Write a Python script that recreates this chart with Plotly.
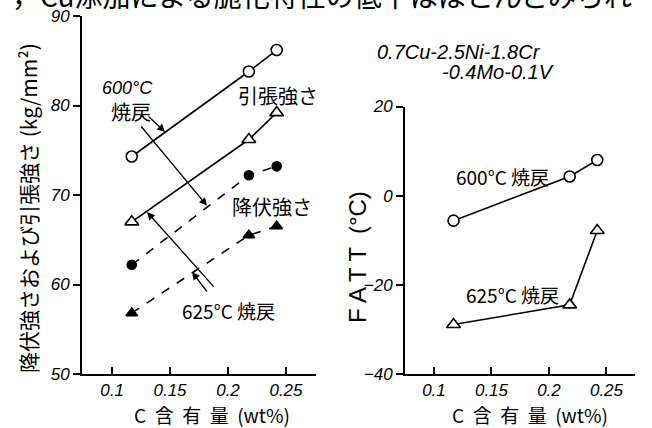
import plotly.graph_objects as go

# ---------------- data ----------------
c_content = [0.117, 0.218, 0.242]
tensile_600 = [74.3, 83.8, 86.2]
tensile_625 = [67.0, 76.2, 79.2]
yield_600 = [62.2, 72.2, 73.2]
yield_625 = [56.8, 65.5, 66.5]
fatt_600 = [-5.6, 4.3, 8.0]
fatt_625 = [-28.9, -24.5, -7.8]

x_ticks = [0.1, 0.15, 0.2, 0.25]
x_tick_labels = ["0.1", "0.15", "0.2", "0.25"]
y1_ticks = [50, 60, 70, 80, 90]
y2_ticks = [-40, -20, 0, 20]

W, H = 652, 428
BLACK = "#000000"
JP = "Noto Sans CJK JP"
NUM = "Liberation Sans"

fig = go.Figure()

def line_trace(y, xa, ya, dash, symbol, size, fill):
    fig.add_trace(go.Scatter(
        x=c_content, y=y, xaxis=xa, yaxis=ya, mode="lines+markers",
        line=dict(color=BLACK, width=1.6, dash=dash),
        marker=dict(symbol=symbol, size=size,
                    color=BLACK if fill else "white",
                    line=dict(color=BLACK, width=1.6)),
        showlegend=False, hoverinfo="skip"))

line_trace(tensile_600, "x", "y", "solid", "circle", 11, False)
line_trace(tensile_625, "x", "y", "solid", "triangle-up", 12, False)
line_trace(yield_600, "x", "y", "dash", "circle", 9, True)
line_trace(yield_625, "x", "y", "dash", "triangle-up", 10, True)
line_trace(fatt_600, "x2", "y2", "solid", "circle", 11, False)
line_trace(fatt_625, "x2", "y2", "solid", "triangle-up", 12, False)

def px_x(p):
    return p / W

def px_y(p):
    return 1 - p / H

axis_common = dict(showline=True, linecolor=BLACK, linewidth=2, showgrid=False,
                   zeroline=False, tickcolor=BLACK, tickwidth=1.5, ticklen=7,
                   automargin=False,
                   tickfont=dict(family=NUM, size=17, color=BLACK, style="italic"))

fig.update_layout(
    width=W, height=H,
    margin=dict(l=0, r=0, t=0, b=0, pad=0),
    paper_bgcolor="white", plot_bgcolor="white",
    xaxis=dict(domain=[px_x(82), px_x(316)], range=[0.0741, 0.2759],
               tickvals=x_ticks, ticktext=x_tick_labels, ticks="inside",
               anchor="y", **axis_common),
    yaxis=dict(domain=[px_y(374), px_y(16)], range=[50, 90],
               tickvals=y1_ticks, ticks="outside", anchor="x", **axis_common),
    xaxis2=dict(domain=[px_x(405), px_x(635)], range=[0.0748, 0.2748],
                tickvals=x_ticks, ticktext=x_tick_labels, ticks="inside",
                anchor="y2", **axis_common),
    yaxis2=dict(domain=[px_y(374), px_y(106.5)], range=[-40, 20],
                tickvals=y2_ticks, ticks="outside", anchor="x2", **axis_common),
)

ann = []

def txt(text, x, y, size, xref="paper", yref="paper", angle=0, italic=False, family=JP, xanchor="center"):
    ann.append(dict(text=text, x=x, y=y, xref=xref, yref=yref, showarrow=False,
                    textangle=angle, xanchor=xanchor, yanchor="middle",
                    font=dict(family=family, size=size, color=BLACK,
                              style="italic" if italic else "normal")))

def arrow(x_head, y_head, x_tail, y_tail, xref="x", yref="y"):
    ann.append(dict(text="", x=x_head, y=y_head, ax=x_tail, ay=y_tail,
                    xref=xref, yref=yref, axref=xref, ayref=yref,
                    showarrow=True, arrowhead=2, arrowsize=1.2, arrowwidth=1.3,
                    arrowcolor=BLACK, standoff=0, startstandoff=0))

# clipped text line at top of page
txt("，Cu添加による脆化特性の低下はほとんどみられ", px_x(322), px_y(-5), 28)

# axis titles
txt("降伏強さおよび引張強さ (kg/mm²)", px_x(28), px_y(208), 21, angle=-90)
txt("F A T T  (°C)", px_x(357), px_y(257), 24, angle=-90, family=NUM)
txt("C  含  有  量  (wt%)", px_x(212), px_y(414), 19)
txt("C  含  有  量  (wt%)", px_x(530), px_y(414), 19)

# composition note
txt("0.7Cu-2.5Ni-1.8Cr", px_x(459), px_y(52), 20, italic=True, family=NUM)
txt("-0.4Mo-0.1V", px_x(498), px_y(72), 20, italic=True, family=NUM)

# left panel labels
txt("600°C", px_x(127), px_y(88), 18, family=NUM, italic=True)
txt("焼戻", px_x(131), px_y(111), 20)
txt("引張強さ", px_x(278), px_y(95), 20)
txt("降伏強さ", px_x(272), px_y(206), 20)
txt("625°C 焼戻", px_x(228), px_y(310), 19)

# right panel labels
txt("600°C 焼戻", px_x(502), px_y(177), 19)
txt("625°C 焼戻", px_x(512), px_y(294), 19)

# arrows (data coordinates of left panel)
arrow(0.1457, 77.04, 0.1302, 78.94)
arrow(0.1819, 68.8, 0.1241, 77.82)
arrow(0.1302, 68.1, 0.1888, 59.6)
arrow(0.1690, 61.4, 0.1828, 59.05)

fig.update_layout(annotations=ann)

fig.write_html("out.html",
               config={"displayModeBar": False},
               post_script="document.body.style.margin='0';"
                           "document.body.style.overflow='hidden';")
